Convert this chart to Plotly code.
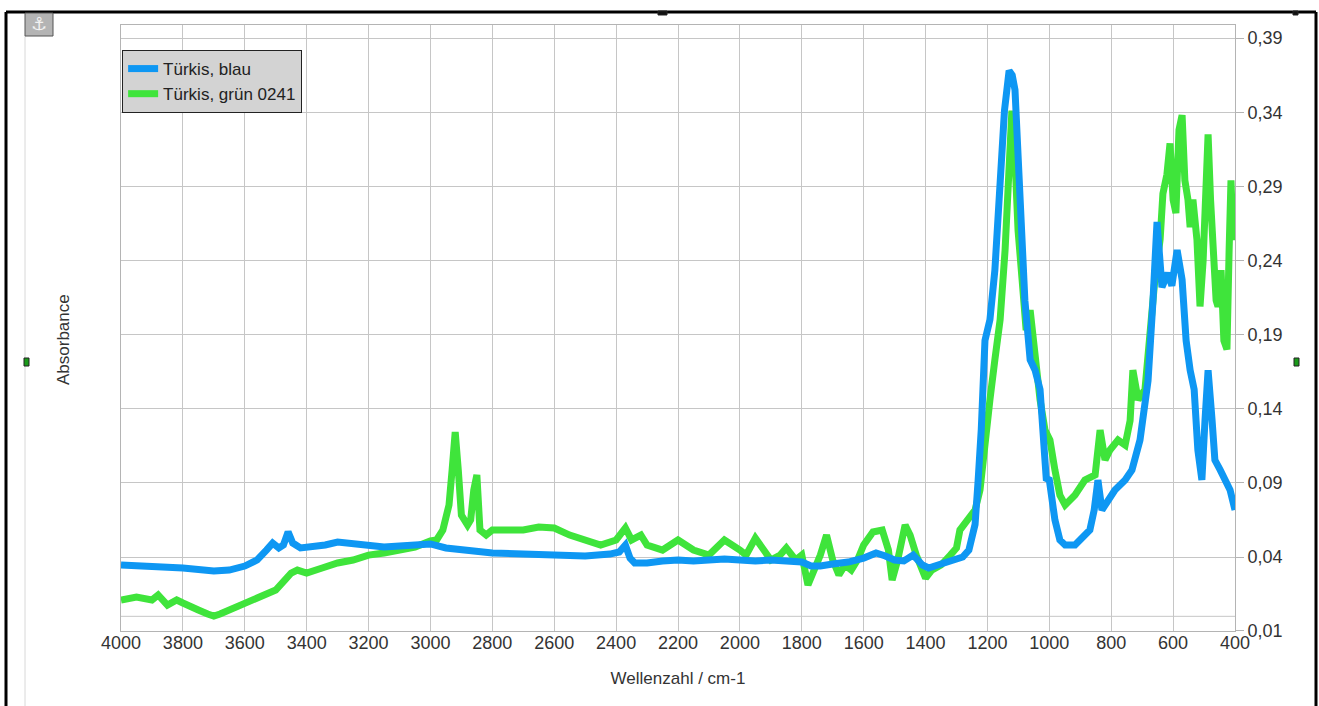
import plotly.graph_objects as go

# ---------------- data ----------------
blue_wn = [4000, 3900, 3800, 3700, 3650, 3600, 3560, 3530, 3510, 3490, 3475, 3460, 3445, 3420,
           3380, 3340, 3300, 3250, 3200, 3150, 3100, 3050, 3000, 2950, 2900, 2850, 2800, 2700,
           2600, 2500, 2420, 2390, 2370, 2355, 2340, 2300, 2250, 2200, 2150, 2100, 2050, 2000,
           1950, 1900, 1850, 1800, 1770, 1740, 1700, 1650, 1600, 1560, 1530, 1500, 1470, 1440,
           1410, 1390, 1360, 1330, 1300, 1280, 1260, 1250, 1240, 1230, 1220, 1208, 1192, 1176,
           1159, 1145, 1130, 1120, 1111, 1095, 1079, 1062, 1046, 1030, 1020, 1010, 1000, 982,
           966, 949, 917, 900, 885, 869, 855, 843, 830, 810, 788, 755, 733, 707, 690, 681, 665,
           652, 636, 617, 604, 587, 571, 558, 545, 532, 520, 507, 497, 487, 474, 465, 448, 432,
           416, 400]
blue_abs = [0.0346, 0.0339, 0.0326, 0.0306, 0.0312, 0.0339, 0.038, 0.0447, 0.0494, 0.0461, 0.0481,
            0.0569, 0.0494, 0.0461, 0.0467, 0.0481, 0.0501, 0.0488, 0.0474, 0.0467, 0.0474, 0.0481,
            0.0488, 0.0461, 0.0447, 0.0434, 0.0427, 0.042, 0.0413, 0.0407, 0.042, 0.0434, 0.0481,
            0.0393, 0.036, 0.036, 0.0373, 0.038, 0.0373, 0.038, 0.0387, 0.038, 0.0373, 0.038,
            0.0373, 0.0366, 0.0339, 0.0339, 0.0353, 0.0366, 0.0393, 0.0427, 0.0407, 0.038, 0.0373,
            0.0413, 0.0346, 0.0326, 0.0346, 0.0366, 0.038, 0.040, 0.0447, 0.0515, 0.062, 0.092,
            0.126, 0.186, 0.200, 0.2335, 0.301, 0.341, 0.368, 0.365, 0.355, 0.281, 0.213, 0.173,
            0.166, 0.153, 0.112, 0.093, 0.092, 0.065, 0.0515, 0.0481, 0.0481, 0.0515, 0.0548,
            0.0582, 0.0717, 0.0919, 0.0717, 0.0784, 0.0852, 0.0919, 0.0987, 0.1189, 0.146, 0.159,
            0.213, 0.266, 0.222, 0.2315, 0.223, 0.247, 0.227, 0.186, 0.166, 0.153, 0.112, 0.092,
            0.132, 0.166, 0.132, 0.1054, 0.0987, 0.0919, 0.0852, 0.0717]

green_wn = [4000, 3950, 3900, 3880, 3850, 3820, 3800, 3770, 3750, 3720, 3700, 3680, 3650, 3620,
            3600, 3570, 3540, 3500, 3470, 3450, 3430, 3400, 3350, 3300, 3250, 3200, 3150, 3100,
            3050, 3000, 2980, 2960, 2950, 2940, 2930, 2920, 2910, 2900, 2880, 2870, 2860, 2850,
            2840, 2820, 2800, 2700, 2650, 2600, 2550, 2500, 2450, 2400, 2370, 2350, 2320, 2300,
            2250, 2200, 2150, 2100, 2050, 2000, 1980, 1950, 1920, 1900, 1870, 1850, 1820, 1800,
            1780, 1760, 1740, 1720, 1700, 1680, 1660, 1640, 1620, 1600, 1570, 1540, 1520, 1508,
            1490, 1466, 1450, 1430, 1400, 1380, 1350, 1320, 1300, 1289, 1263, 1240, 1224, 1208,
            1192, 1176, 1159, 1143, 1127, 1121, 1111, 1101, 1088, 1075, 1062, 1046, 1030, 1014,
            998, 982, 966, 949, 917, 885, 852, 836, 820, 804, 778, 755, 739, 730, 713, 691, 675,
            659, 642, 633, 620, 610, 600, 591, 581, 571, 562, 552, 545, 536, 523, 513, 503, 494,
            487, 479, 471, 461, 455, 445, 436, 426, 419, 413, 406, 400]
green_abs = [0.011, 0.013, 0.011, 0.0144, 0.0076, 0.011, 0.009, 0.0056, 0.0043, 0.0016, 0.0002,
             0.0016, 0.0043, 0.0076, 0.0097, 0.0124, 0.0144, 0.0177, 0.0245, 0.0292, 0.0312,
             0.0292, 0.0326, 0.036, 0.038, 0.0413, 0.0427, 0.0447, 0.0467, 0.0508, 0.0515, 0.0582,
             0.065, 0.0751, 0.0987, 0.1243, 0.0987, 0.0683, 0.0616, 0.065, 0.0852, 0.0953, 0.0582,
             0.0548, 0.0582, 0.0582, 0.0602, 0.0596, 0.0548, 0.0515, 0.0481, 0.0515, 0.0596,
             0.0515, 0.0548, 0.0481, 0.0447, 0.0515, 0.0447, 0.0413, 0.0515, 0.0447, 0.0413,
             0.0528, 0.0447, 0.038, 0.0413, 0.0461, 0.038, 0.0413, 0.0211, 0.0312, 0.0413, 0.0548,
             0.038, 0.0279, 0.0346, 0.0312, 0.038, 0.0481, 0.0569, 0.0582, 0.0447, 0.0245, 0.038,
             0.0616, 0.0548, 0.0413, 0.0258, 0.0312, 0.0346, 0.0413, 0.0461, 0.0582, 0.065, 0.0717,
             0.0852, 0.1189, 0.146, 0.173, 0.200, 0.247, 0.328, 0.341, 0.308, 0.26, 0.227, 0.193,
             0.2065, 0.173, 0.146, 0.1256, 0.1189, 0.0987, 0.0818, 0.0751, 0.0818, 0.0919, 0.0953,
             0.1256, 0.1054, 0.1122, 0.1189, 0.1155, 0.132, 0.166, 0.146, 0.153, 0.193, 0.227,
             0.254, 0.285, 0.298, 0.319, 0.281, 0.272, 0.328, 0.338, 0.294, 0.281, 0.2625, 0.281,
             0.254, 0.209, 0.24, 0.281, 0.325, 0.281, 0.249, 0.213, 0.209, 0.2335, 0.186, 0.18,
             0.247, 0.294, 0.254, 0.26]

x_ticks = list(range(4000, 399, -200))
y_ticks = [0.39, 0.34, 0.29, 0.24, 0.19, 0.14, 0.09, 0.04, -0.0097]
y_labels = ["0,39", "0,34", "0,29", "0,24", "0,19", "0,14", "0,09", "0,04", "0,01"]

series_names = ["Türkis, blau", "Türkis, grün 0241"]
BLUE = "#0e97f3"
GREEN = "#3fe43b"

# ---------------- figure ----------------
fig = go.Figure()
fig.add_trace(go.Scatter(x=green_wn, y=green_abs, mode="lines", name=series_names[1],
                         line=dict(color=GREEN, width=7), legendrank=2))
fig.add_trace(go.Scatter(x=blue_wn, y=blue_abs, mode="lines", name=series_names[0],
                         line=dict(color=BLUE, width=7), legendrank=1))

GRID = "#c6c6c6"
AX = "#b4b4b4"
FONT = "Liberation Sans, Arial, sans-serif"

fig.update_layout(
    width=1319, height=706,
    margin=dict(l=121, r=84, t=25, b=75),
    paper_bgcolor="white", plot_bgcolor="white",
    font=dict(family=FONT, size=18, color="#333333"),
    showlegend=True,
    legend=dict(x=0.001, y=0.9587, xanchor="left", yanchor="top",
                bgcolor="#d3d3d3", bordercolor="#222222", borderwidth=1,
                font=dict(size=17, color="#222222"), itemwidth=30,
                tracegroupgap=0),
    xaxis=dict(range=[4000, 400], tickvals=x_ticks, ticktext=[str(v) for v in x_ticks],
               showgrid=True, gridcolor=GRID, gridwidth=1, zeroline=False,
               showline=True, linecolor=AX, linewidth=1, mirror=True, ticks="",
               tickfont=dict(size=18), ticklabelstandoff=-5,
               title=dict(text="Wellenzahl / cm-1", standoff=20, font=dict(size=17))),
    yaxis=dict(range=[-0.0099, 0.3988], side="right", tickvals=y_ticks, ticktext=y_labels,
               showgrid=True, gridcolor=GRID, gridwidth=1, zeroline=False,
               showline=True, linecolor=AX, linewidth=1, mirror=True,
               ticks="outside", ticklen=8, tickcolor=AX, tickfont=dict(size=18)),
)

def px_x(px):
    return (px - 121) / 1114.0

def px_y(py):
    return (631 - py) / 606.0

shapes = []
# extra grid line near the bottom
shapes.append(dict(type="line", xref="paper", yref="y", x0=0, x1=1, y0=0.0, y1=0.0,
                   line=dict(color=GRID, width=1), layer="below"))
# outer frame
for (x0, y0, x1, y1) in [(6, 12, 1316, 12), (6, 12, 6, 706), (1316, 12, 1316, 706)]:
    shapes.append(dict(type="line", xref="paper", yref="paper", x0=px_x(x0), x1=px_x(x1),
                       y0=px_y(y0), y1=px_y(y1), line=dict(color="black", width=3)))
# light vertical line at left
shapes.append(dict(type="line", xref="paper", yref="paper", x0=px_x(25), x1=px_x(25),
                   y0=px_y(36), y1=px_y(706), line=dict(color="#d8d8d8", width=1)))
# anchor box
shapes.append(dict(type="rect", xref="paper", yref="paper", x0=px_x(25), x1=px_x(53),
                   y0=px_y(36), y1=px_y(13), fillcolor="#b4b4b4", line=dict(color="#555555", width=1)))
# handles
for (x0, y0, x1, y1, c) in [(24, 358, 29, 366, "#1a9a1a"), (1294, 358, 1299, 366, "#1a9a1a"),
                            (658, 11, 667, 15, "#111111"), (1293, 11, 1298, 15, "#111111")]:
    shapes.append(dict(type="rect", xref="paper", yref="paper", x0=px_x(x0), x1=px_x(x1),
                       y0=px_y(y1), y1=px_y(y0), fillcolor=c, line=dict(color="#222222", width=1)))
fig.update_layout(shapes=shapes)

fig.add_annotation(text="⚓", xref="paper", yref="paper", x=px_x(39), y=px_y(24),
                   xanchor="center", yanchor="middle",
                   showarrow=False, font=dict(size=18, color="#f2f2f2", family="DejaVu Sans"))
fig.add_annotation(text="Absorbance", xref="paper", yref="paper", x=px_x(63), y=px_y(340),
                   xanchor="center", yanchor="middle",
                   showarrow=False, textangle=-90, font=dict(size=17, color="#333333"))

fig.write_html("out.html", config={"displayModeBar": False},
               post_script="document.body.style.margin='0px';document.body.style.overflow='hidden';")
